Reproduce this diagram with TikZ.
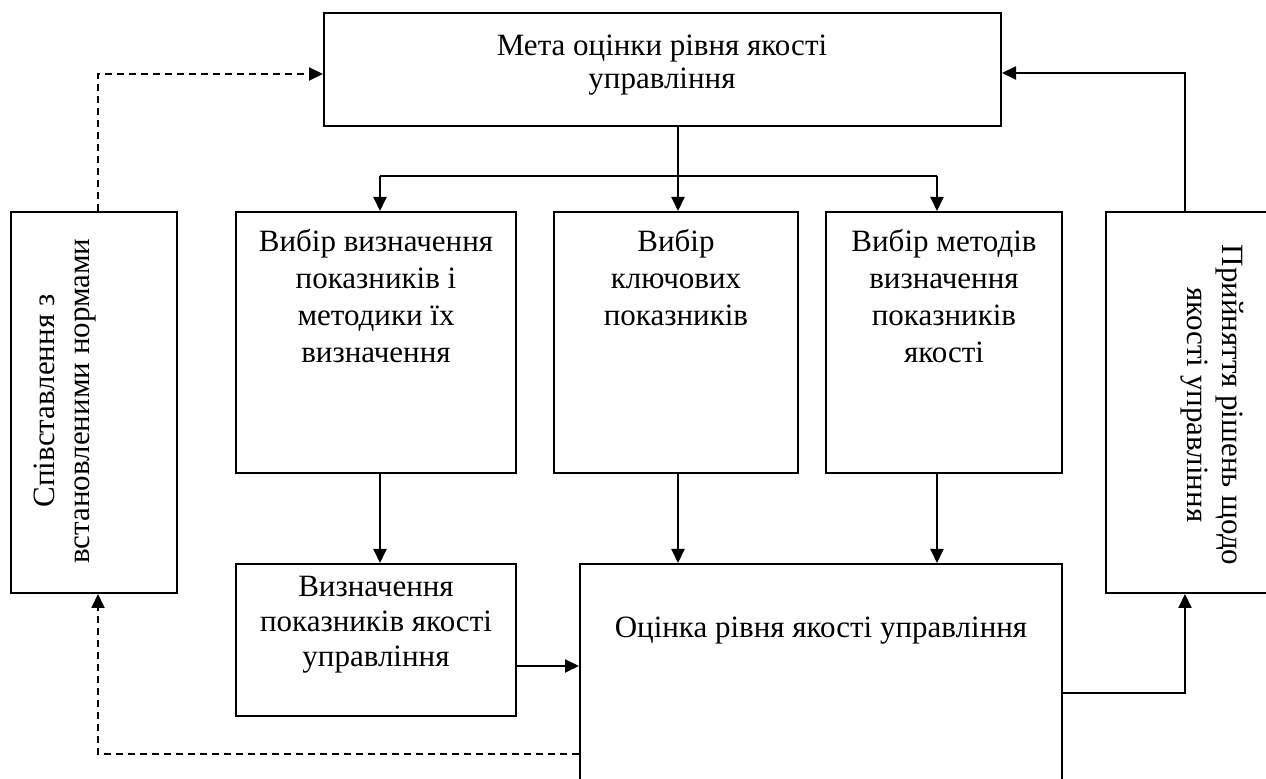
\documentclass[tikz,border=0pt]{standalone}
\usepackage{fontspec}
\setmainfont{Liberation Serif}
\usetikzlibrary{arrows.meta,fit}
\begin{document}
\begin{tikzpicture}[x=0.5pt,y=-0.5pt,
  box/.style={draw,line width=1pt,inner sep=0pt,rectangle},
  txt/.style={font=\fontsize{15.5}{18.5}\selectfont,align=center,inner sep=0pt,anchor=north},
  link/.style={line width=1pt,-{Triangle[length=7pt,width=6.5pt]}},
  dlink/.style={link,dash pattern=on 3.5pt off 2.5pt}]
\useasboundingbox (0,0) rectangle (1266,779);

% boxes
\node[box,fit={(324,13) (1001,126)}] (goal) {};
\node[box,fit={(11,212) (177,593)}] (compare) {};
\node[box,fit={(236,212) (516,473)}] (sel1) {};
\node[box,fit={(554,212) (798,473)}] (sel2) {};
\node[box,fit={(826,212) (1062,473)}] (sel3) {};
\node[box,fit={(1106,212) (1270,593)}] (decide) {};
\node[box,fit={(236,564) (516,716)}] (measure) {};
\node[box,fit={(580,564) (1062,784)}] (assess) {};

% labels
\node[txt,font=\fontsize{15.5}{16.5}\selectfont] (goalT) at (662,35) {Мета оцінки рівня якості\\управління};
\node[txt] (sel1T) at (376,229) {Вибір визначення\\показників і\\методики їх\\визначення};
\node[txt] (sel2T) at (676,229) {Вибір\\ключових\\показників};
\node[txt] (sel3T) at (944,229) {Вибір методів\\визначення\\показників\\якості};
\node[txt,font=\fontsize{15.5}{17.5}\selectfont] (measureT) at (376,576) {Визначення\\показників якості\\управління};
\node[txt] (assessT) at (821,617) {Оцінка рівня якості управління};
\node[txt,font=\fontsize{15.5}{17.5}\selectfont,rotate=90] (compareT) at (34,401) {Співставлення з\\встановленими нормами};
\node[txt,font=\fontsize{15.5}{17.5}\selectfont,rotate=-90] (decideT) at (1244,405) {Прийняття рішень щодо\\якості управління};

% distribution from the goal box
\coordinate (fork) at (678,176);
\coordinate (forkL) at (380,176);
\coordinate (forkR) at (937,176);
\draw[line width=1pt] (goal.south -| fork) -- (fork);
\draw[line width=1pt] (forkL) -- (forkR);
\draw[link] (forkL) -- (sel1.north -| forkL);
\draw[link] (fork) -- (sel2.north -| fork);
\draw[link] (forkR) -- (sel3.north -| forkR);

% selections feed the measurement and assessment
\draw[link] (sel1.south -| forkL) -- (measure.north -| forkL);
\draw[link] (sel2.south -| fork) -- (assess.north -| fork);
\draw[link] (sel3.south -| forkR) -- (assess.north -| forkR);
\coordinate (m1) at (516,666);
\draw[link] (measure.east |- m1) -- (assess.west |- m1);

% decision loop
\coordinate (r1) at (1185,693);
\coordinate (r2) at (1185,73);
\draw[link] (assess.east |- r1) -- (r1) -- (decide.south -| r1);
\draw[link] (decide.north -| r2) -- (r2) -- (goal.east |- r2);

% comparison loop
\coordinate (l1) at (98,754);
\coordinate (l2) at (98,74);
\draw[dlink] (assess.west |- l1) -- (l1) -- (compare.south -| l1);
\draw[dlink] (compare.north -| l2) -- (l2) -- (goal.west |- l2);
\end{tikzpicture}
\end{document}
